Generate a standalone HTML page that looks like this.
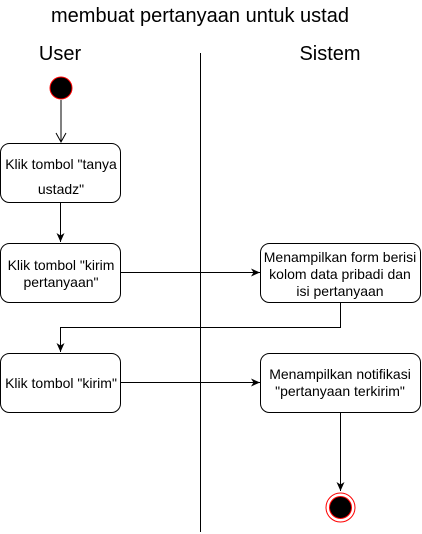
<!DOCTYPE html>
<html><head><style>
html,body{margin:0;padding:0;background:#fff;}
svg{display:block;font-family:"Liberation Sans",sans-serif;}
</style></head><body>
<svg width="422" height="534" viewBox="0 0 422 534" xmlns="http://www.w3.org/2000/svg">
<defs>
<marker id="f" markerWidth="10" markerHeight="10" refX="9" refY="5" orient="auto" markerUnits="userSpaceOnUse"><path d="M0,1 L9,5 L0,9 L2.5,5 Z" fill="#000"/></marker>
<marker id="o" markerWidth="12" markerHeight="12" refX="10" refY="6" orient="auto" markerUnits="userSpaceOnUse"><path d="M1,1 L10,6 L1,11" fill="none" stroke="#000" stroke-width="1"/></marker>
</defs>
<text x="200" y="22" font-size="20" text-anchor="middle">membuat pertanyaan untuk ustad</text>
<text x="60" y="60" font-size="20" text-anchor="middle">User</text>
<text x="330" y="60" font-size="20" text-anchor="middle">Sistem</text>
<line x1="200.5" y1="53" x2="200.5" y2="532" stroke="#000"/>
<circle cx="61" cy="88" r="11" fill="#000" stroke="#f00" stroke-width="1"/>
<line x1="61" y1="100" x2="61" y2="142" stroke="#000" marker-end="url(#o)"/>
<g fill="#fff" stroke="#000">
<rect x="0.5" y="143.5" width="120" height="59" rx="9"/>
<rect x="0.5" y="243.5" width="120" height="59" rx="9"/>
<rect x="0.5" y="353.5" width="120" height="59" rx="9"/>
<rect x="260.5" y="243.5" width="160" height="59" rx="9"/>
<rect x="260.5" y="353.5" width="160" height="59" rx="9"/>
</g>
<g font-size="14" text-anchor="middle">
<text x="61" y="169">Klik tombol "tanya</text>
<text x="61" y="194">ustadz"</text>
<text x="61" y="270">Klik tombol "kirim</text>
<text x="61" y="287">pertanyaan"</text>
<text x="61" y="388">Klik tombol "kirim"</text>
<text x="340" y="262">Menampilkan form berisi</text>
<text x="340" y="279">kolom data pribadi dan</text>
<text x="340" y="296">isi pertanyaan</text>
<text x="340" y="379">Menampilkan notifikasi</text>
<text x="340" y="396">"pertanyaan terkirim"</text>
</g>
<g stroke="#000" fill="none">
<line x1="60.5" y1="203" x2="60.5" y2="242" marker-end="url(#f)"/>
<line x1="121" y1="272.5" x2="260" y2="272.5" marker-end="url(#f)"/>
<polyline points="340.5,303 340.5,327.5 60.5,327.5 60.5,352" marker-end="url(#f)"/>
<line x1="121" y1="382.5" x2="260" y2="382.5" marker-end="url(#f)"/>
<line x1="340.5" y1="413" x2="340.5" y2="491" marker-end="url(#f)"/>
</g>
<circle cx="340.5" cy="507.5" r="14.5" fill="#fff" stroke="#f00"/>
<circle cx="340.5" cy="507.5" r="11" fill="#000" stroke="#f00"/>
</svg>
</body></html>
